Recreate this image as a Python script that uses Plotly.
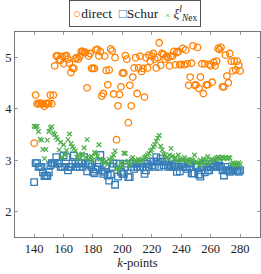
import plotly.graph_objects as go

k_points = list(range(140, 281))

direct = [
    3.33, 4.27, 4.10, 4.10, 4.11, 4.10, 4.10, 4.05, 4.10, 4.10,  # 140-149
    4.11, 4.27, 4.10, 4.27, 4.84, 5.03, 5.04, 4.96, 4.95, 5.02,  # 150-159
    4.88, 5.03, 5.04, 4.97, 4.89, 4.71, 4.80, 4.79, 4.98, 5.00,  # 160-169
    4.97, 5.02, 5.12, 5.12, 5.10, 5.10, 4.41, 5.03, 5.08, 4.79,  # 170-179
    4.79, 4.79, 5.15, 5.16, 5.03, 5.12, 4.25, 4.30, 5.03, 4.75,  # 180-189
    4.47, 4.76, 5.17, 5.13, 4.29, 5.00, 3.40, 4.06, 4.28, 4.43,  # 190-199
    4.70, 4.70, 5.04, 4.97, 3.73, 4.46, 4.06, 4.62, 4.80, 5.00,  # 200-209
    4.30, 4.80, 5.03, 4.73, 4.79, 4.23, 5.00, 4.80, 5.05, 4.93,  # 210-219
    5.03, 5.08, 4.97, 4.80, 5.00, 5.29, 4.85, 5.08, 5.06, 4.97,  # 220-229
    5.03, 5.00, 4.84, 5.03, 5.03, 5.12, 4.86, 5.10, 5.12, 4.86,  # 230-239
    4.87, 5.18, 4.86, 5.15, 4.88, 4.46, 4.62, 4.89, 5.23, 4.46,  # 240-249
    4.47, 5.20, 4.40, 4.62, 4.88, 4.30, 4.88, 4.47, 4.47, 4.87,  # 250-259
    4.84, 4.52, 4.91, 4.84, 4.93, 5.18, 5.16, 5.20, 4.43, 4.43,  # 260-269
    5.05, 4.64, 4.51, 5.08, 4.93, 4.74, 4.93, 4.76, 4.93, 4.85,  # 270-279
    4.74,                                                        # 280
]

schur = [
    2.57, 2.94, 2.94, 2.87, 2.87, 2.87, 2.76, 2.69, 2.70, 2.69,  # 140-149
    2.76, 2.90, 2.94, 2.93, 2.94, 3.06, 2.93, 2.94, 2.87, 2.87,  # 150-159
    3.09, 2.87, 3.06, 2.80, 2.87, 2.87, 2.93, 3.09, 2.93, 2.87,  # 160-169
    2.93, 2.87, 2.94, 2.87, 3.06, 2.93, 2.78, 2.93, 2.93, 2.87,  # 170-179
    2.77, 2.74, 2.82, 2.87, 2.94, 3.10, 2.80, 2.73, 2.77, 2.87,  # 180-189
    2.70, 2.60, 2.72, 2.87, 2.93, 2.52, 2.93, 2.68, 2.93, 2.77,  # 190-199
    2.73, 2.73, 2.87, 2.93, 2.67, 2.67, 2.87, 2.93, 2.83, 2.93,  # 200-209
    2.87, 2.93, 2.87, 2.94, 2.87, 2.73, 2.80, 2.93, 2.87, 2.97,  # 210-219
    2.90, 2.97, 2.87, 3.06, 2.97, 2.87, 3.03, 2.97, 2.90, 2.97,  # 220-229
    2.97, 2.87, 2.90, 2.87, 2.90, 2.87, 2.93, 2.77, 2.87, 2.78,  # 230-239
    2.93, 2.87, 2.93, 2.87, 2.83, 2.93, 2.87, 2.74, 2.74, 2.74,  # 240-249
    2.90, 2.87, 2.72, 2.68, 2.87, 2.93, 2.76, 2.87, 2.80, 2.80,  # 250-259
    2.87, 2.93, 2.87, 2.90, 2.87, 2.96, 2.89, 2.87, 2.80, 2.70,  # 260-269
    2.87, 2.80, 2.80, 2.77, 2.80, 2.80, 2.87, 2.80, 2.80, 2.77,  # 270-279
    2.80,                                                        # 280
]

xi = [
    3.66, 3.65, 3.66, 3.56, 3.41, 3.39, 3.21, 3.03, 3.21, 3.39,  # 140-149
    3.56, 3.63, 3.65, 3.53, 3.50, 3.44, 3.40, 3.20, 3.35, 3.05,  # 150-159
    3.30, 3.10, 3.19, 3.40, 3.51, 3.32, 3.26, 3.22, 3.18, 3.06,  # 160-169
    3.10, 3.02, 3.10, 3.12, 3.24, 3.05, 3.40, 3.00, 3.05, 3.07,  # 170-179
    3.00, 3.15, 3.13, 3.08, 3.30, 3.02, 2.98, 3.00, 2.95, 2.98,  # 180-189
    2.92, 3.02, 2.98, 3.05, 3.10, 3.18, 2.85, 2.78, 2.85, 2.95,  # 190-199
    2.90, 3.14, 3.13, 2.95, 2.98, 2.90, 3.02, 3.05, 2.98, 3.00,  # 200-209
    2.97, 3.02, 2.98, 3.00, 3.02, 3.05, 3.07, 3.10, 3.13, 3.18,  # 210-219
    3.20, 3.26, 3.30, 3.37, 3.43, 3.48, 3.27, 3.20, 3.12, 3.10,  # 220-229
    3.05, 3.02, 3.10, 3.23, 3.08, 3.02, 3.05, 2.98, 3.10, 3.02,  # 230-239
    3.00, 3.00, 3.05, 2.98, 3.00, 3.02, 2.95, 3.00, 3.00, 3.10,  # 240-249
    2.97, 2.95, 2.90, 3.00, 2.95, 3.03, 2.93, 3.00, 3.07, 2.95,  # 250-259
    3.00, 3.02, 3.00, 3.02, 3.04, 3.06, 3.02, 3.04, 3.06, 3.03,  # 260-269
    3.05, 3.03, 3.05, 3.04, 2.92, 2.95, 2.93, 2.90, 2.93, 2.95,  # 270-279
    2.92,                                                        # 280
]

x_ticks = [140, 160, 180, 200, 220, 240, 260, 280]
y_ticks = [2, 3, 4, 5]

ORANGE = "#ff7f00"
BLUE = "#377eb8"
GREEN = "#4daf4a"
FONT = "Liberation Serif, DejaVu Serif, serif"

fig = go.Figure()
fig.add_trace(go.Scatter(
    x=k_points, y=direct, mode="markers", name="direct",
    marker=dict(symbol="circle-open", size=6.5, color=ORANGE, line=dict(width=1.3, color=ORANGE)),
))
fig.add_trace(go.Scatter(
    x=k_points, y=schur, mode="markers", name="Schur",
    marker=dict(symbol="square-open", size=6.5, color=BLUE, line=dict(width=1.3, color=BLUE)),
))
fig.add_trace(go.Scatter(
    x=k_points, y=xi, mode="markers", name="xi",
    marker=dict(symbol="x-thin-open", size=4.5, color=GREEN, line=dict(width=1.3, color=GREEN)),
))

legend_text = (
    f"<span style='color:{ORANGE}'>○</span>direct  "
    f"<span style='color:{BLUE}'>□</span>Schur  "
    f"<span style='color:{GREEN};font-size:9px'>×</span> "
    "<i>ξ</i><sup><i>l</i></sup><sub><i>N</i>ex</sub>"
)
fig.add_annotation(
    text=legend_text, xref="paper", yref="paper", x=0.488, y=1.156,
    xanchor="center", yanchor="top", showarrow=False,
    bordercolor="#555555", borderwidth=1, borderpad=3, bgcolor="white",
    font=dict(family=FONT, size=13.5, color="#222222"),
)

axis_common = dict(
    showgrid=False, zeroline=False, showline=True, linecolor="#777777", linewidth=1,
    mirror="ticks", ticks="inside", ticklen=3, tickcolor="#999999", tickwidth=0.8,
    tickfont=dict(family=FONT, size=12.5, color="#222222"), automargin=False,
)

fig.update_layout(
    width=261, height=274,
    margin=dict(l=15, r=1, t=32, b=37, autoexpand=False),
    paper_bgcolor="white", plot_bgcolor="white",
    font=dict(family=FONT, size=12.5, color="#222222"),
    showlegend=False,
    hovermode=False,
    xaxis=dict(range=[127, 293.5], tickvals=x_ticks,
               title=dict(text="<i>k</i>-points", font=dict(family=FONT, size=12.5), standoff=2),
               **axis_common),
    yaxis=dict(range=[1.5, 5.5], tickvals=y_ticks, **axis_common),
)

fig.write_html(
    "out.html",
    config={"displayModeBar": False, "displaylogo": False},
    post_script="document.body.style.margin='0';document.body.style.overflow='hidden';",
)
